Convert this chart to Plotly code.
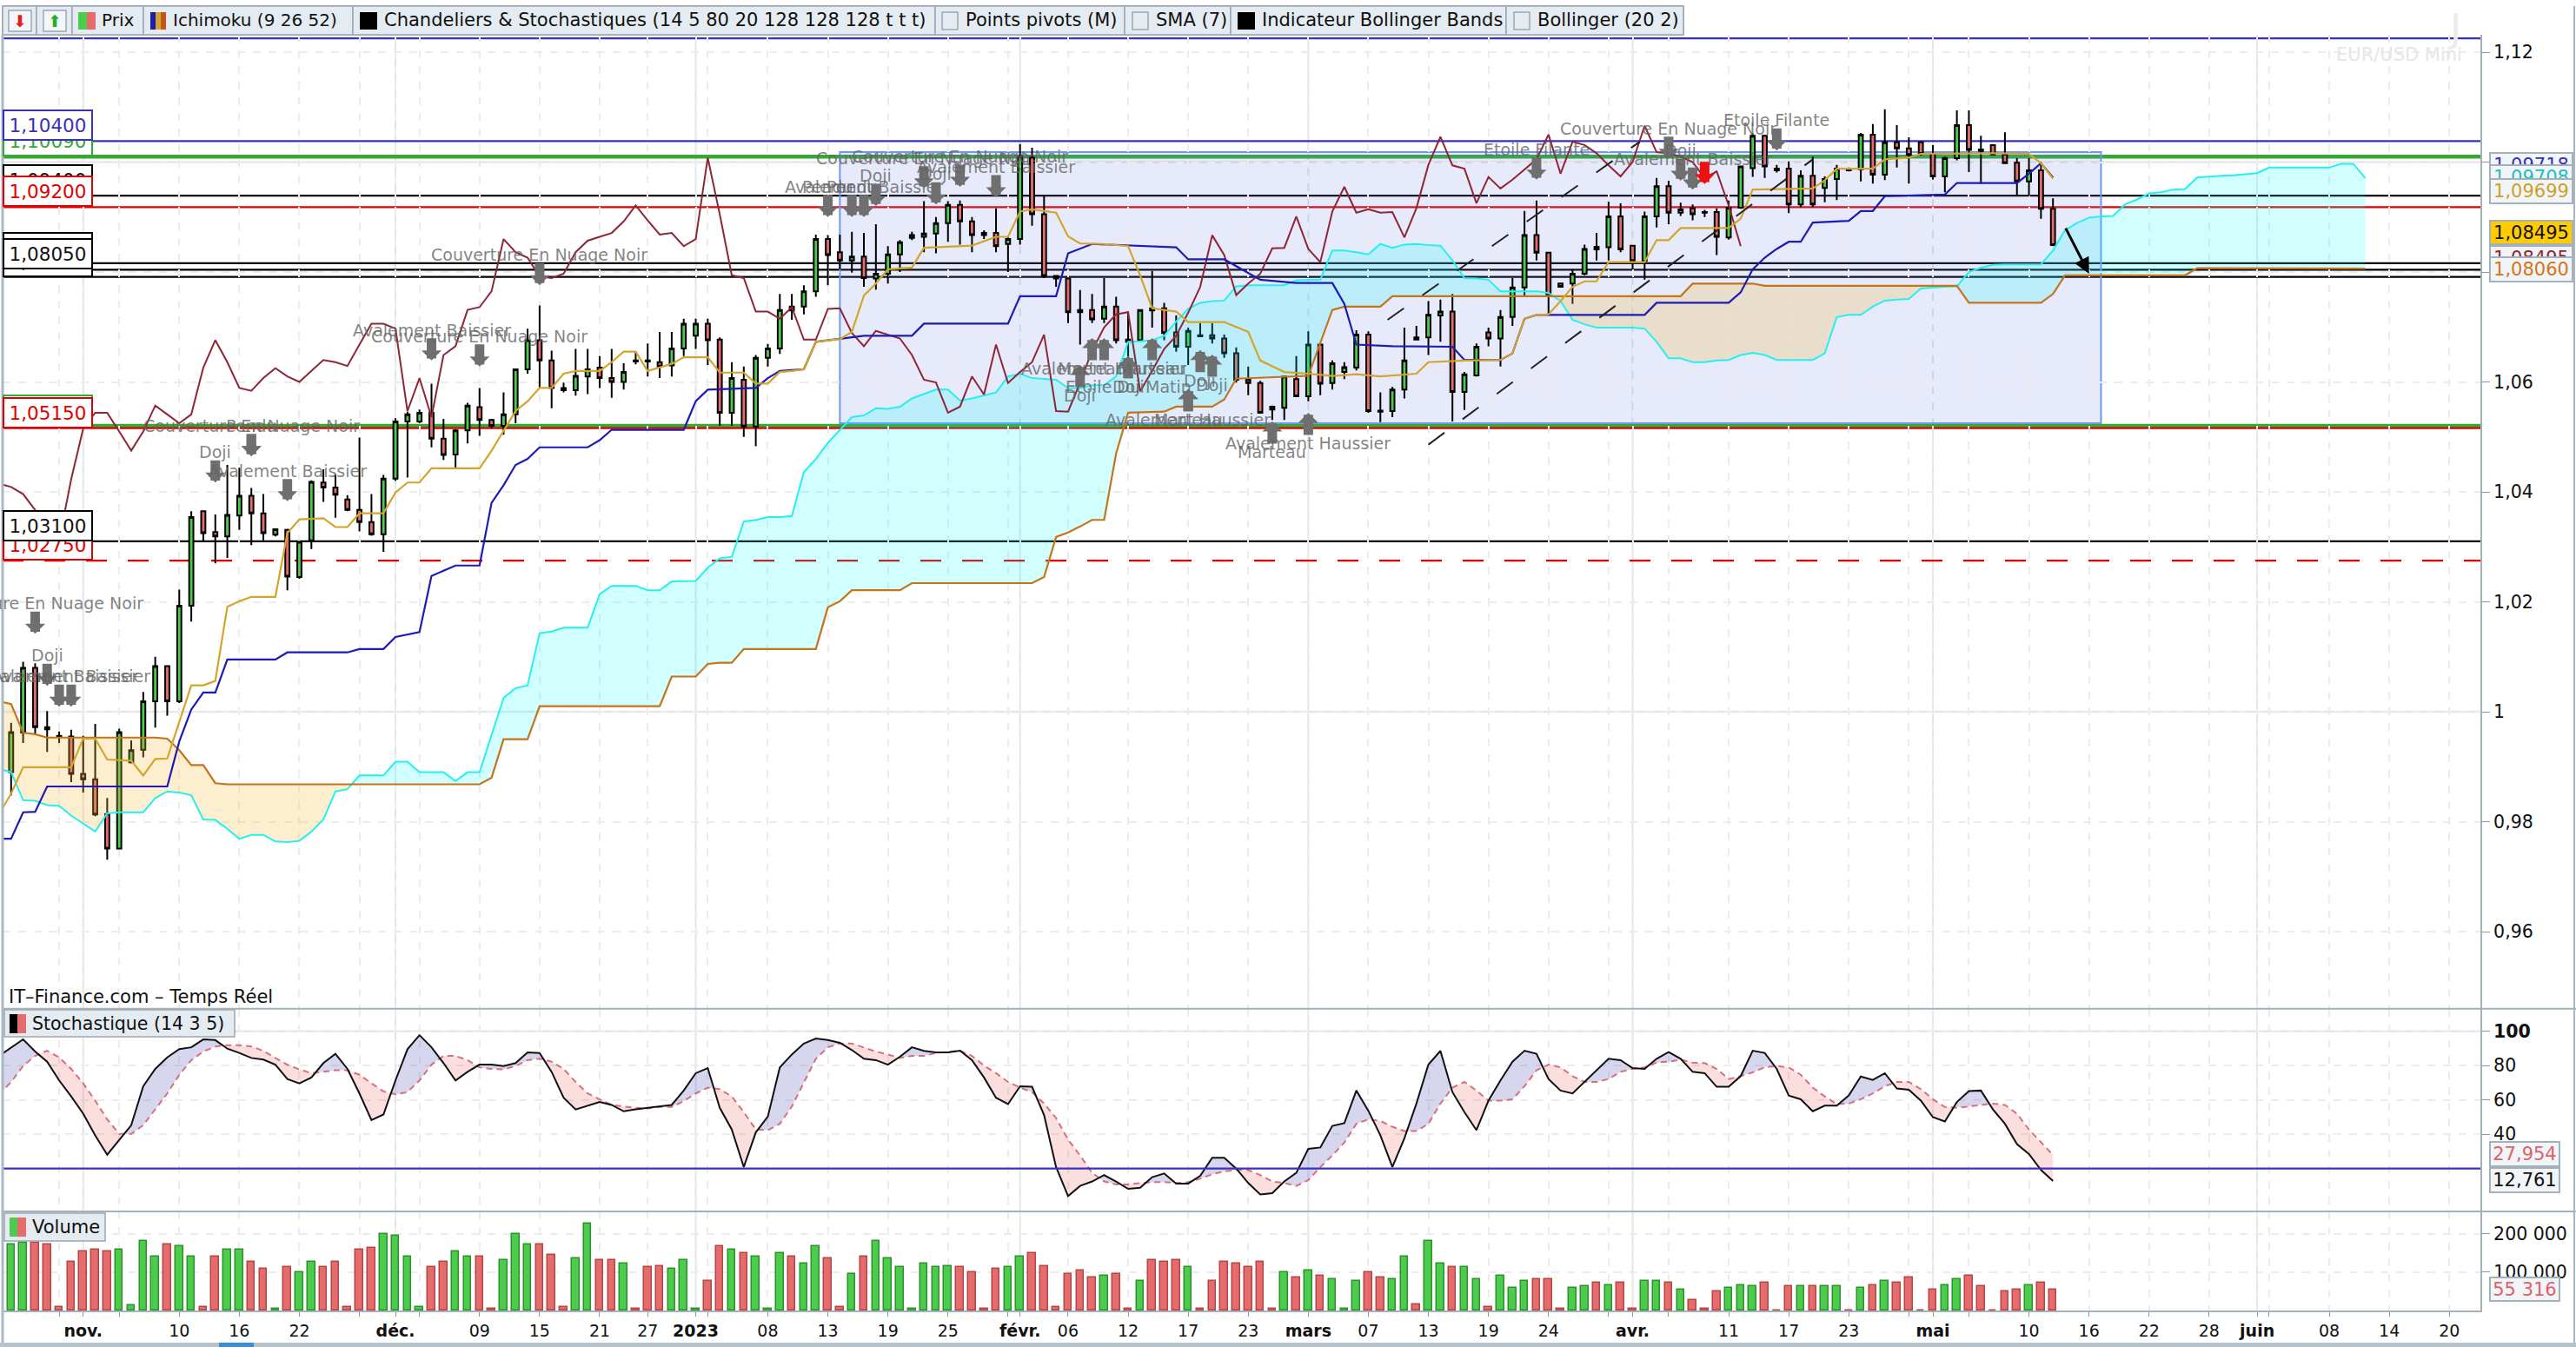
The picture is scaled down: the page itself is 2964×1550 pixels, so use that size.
"""
EUR/USD Mini daily chart: candles with Ichimoku, chart patterns, stochastic and volume panes.
"""
import numpy as np
import plotly.graph_objects as go

open_p = [
    .9890, .9962, 1.0080, .9972, .9956, .9955, .9887, .9877, .9814, .9751,
    .9908, .9931, 1.0019, 1.0083, 1.0019, 1.0193, 1.0365, 1.0327, 1.0319, 1.0357,
    1.0393, 1.0361, 1.0322, 1.0331, 1.0245, 1.0312, 1.0417, 1.0408, 1.0386, 1.0367,
    1.0345, 1.0323, 1.0424, 1.0528, 1.0528, 1.0544, 1.0497, 1.0468, 1.0512, 1.0554,
    1.0531, 1.0520, 1.0541, 1.0623, 1.0676, 1.0639, 1.0589, 1.0585, 1.0610, 1.0626,
    1.0607, 1.0600, 1.0639, 1.0639, 1.0636, 1.0630, 1.0661, 1.0684, 1.0706, 1.0677,
    1.0544, 1.0604, 1.0519, 1.0644, 1.0661, 1.0737, 1.0737, 1.0765, 1.0860, 1.0836,
    1.0821, 1.0828, 1.0788, 1.0797, 1.0832, 1.0862, 1.0864, 1.0870, 1.0889, 1.0922,
    1.0892, 1.0871, 1.0871, 1.0851, 1.0860, 1.1008, 1.0905, 1.0793, 1.0788, 1.0731,
    1.0731, 1.0715, 1.0737, 1.0677, 1.0676, 1.0734, 1.0734, 1.0690, 1.0664, 1.0685,
    1.0685, 1.0679, 1.0652, 1.0604, 1.0598, 1.0555, 1.0553, 1.0605, 1.0574, 1.0668,
    1.0598, 1.0618, 1.0626, 1.0686, 1.0548, 1.0547, 1.0586, 1.0681, 1.0681, 1.0721,
    1.0728, 1.0582, 1.0612, 1.0690, 1.0679, 1.0718, 1.0772, 1.0867, 1.0835, 1.0779,
    1.0779, 1.0797, 1.0846, 1.0845, 1.0901, 1.0848, 1.0820, 1.0901, 1.0956, 1.0908,
    1.0916, 1.0909, 1.0909, 1.0863, 1.0917, 1.0989, 1.1048, 1.0988, 1.0988, 1.0923,
    1.0975, 1.0953, 1.0969, 1.0988, 1.0987, 1.1050, 1.0977, 1.1036, 1.1025, 1.1036,
    1.1015, 1.0974, 1.1007, 1.1067, 1.1023, 1.1031, 1.1014, 1.0999, 1.0965, 1.0985,
    1.0915]
high_p = [
    .9980, 1.0091, 1.0088, 1.0001, .9964, .9967, .9956, .9978, .9843, .9969,
    .9948, 1.0036, 1.0100, 1.0083, 1.0222, 1.0365, 1.0365, 1.0359, 1.0449, 1.0444,
    1.0407, 1.0396, 1.0333, 1.0333, 1.0309, 1.0421, 1.0441, 1.0432, 1.0394, 1.0499,
    1.0396, 1.0431, 1.0534, 1.0546, 1.0550, 1.0597, 1.0533, 1.0514, 1.0562, 1.0589,
    1.0533, 1.0581, 1.0623, 1.0697, 1.0739, 1.0657, 1.0599, 1.0660, 1.0660, 1.0647,
    1.0660, 1.0634, 1.0655, 1.0670, 1.0691, 1.0691, 1.0715, 1.0715, 1.0715, 1.0681,
    1.0636, 1.0628, 1.0649, 1.0669, 1.0760, 1.0760, 1.0776, 1.0868, 1.0867, 1.0868,
    1.0873, 1.0871, 1.0887, 1.0847, 1.0858, 1.0873, 1.0929, 1.0900, 1.0929, 1.0930,
    1.0900, 1.0876, 1.0916, 1.0864, 1.1033, 1.1026, 1.0939, 1.0793, 1.0789, 1.0767,
    1.0760, 1.0789, 1.0755, 1.0728, 1.0731, 1.0802, 1.0744, 1.0721, 1.0699, 1.0707,
    1.0707, 1.0686, 1.0663, 1.0628, 1.0602, 1.0557, 1.0610, 1.0647, 1.0692, 1.0670,
    1.0639, 1.0636, 1.0694, 1.0692, 1.0581, 1.0591, 1.0699, 1.0702, 1.0747, 1.0750,
    1.0760, 1.0618, 1.0670, 1.0699, 1.0731, 1.0789, 1.0911, 1.0930, 1.0835, 1.0780,
    1.0805, 1.0850, 1.0871, 1.0928, 1.0925, 1.0848, 1.0910, 1.0971, 1.0966, 1.0926,
    1.0923, 1.0913, 1.0916, 1.0930, 1.0992, 1.1052, 1.1050, 1.0995, 1.1001, 1.0985,
    1.1010, 1.0974, 1.0995, 1.0990, 1.1053, 1.1069, 1.1096, 1.1067, 1.1045, 1.1036,
    1.1031, 1.1010, 1.1094, 1.1094, 1.1048, 1.1031, 1.1054, 1.1007, 1.1007, 1.1000,
    1.0934]
low_p = [
    .9848, .9943, .9959, .9927, .9943, .9872, .9853, .9810, .9731, .9751,
    .9906, .9917, .9971, .9993, 1.0016, 1.0164, 1.0310, 1.0270, 1.0280, 1.0331,
    1.0303, 1.0312, 1.0319, 1.0221, 1.0242, 1.0296, 1.0382, 1.0353, 1.0365, 1.0328,
    1.0320, 1.0291, 1.0420, 1.0426, 1.0525, 1.0481, 1.0458, 1.0444, 1.0488, 1.0502,
    1.0515, 1.0504, 1.0525, 1.0615, 1.0589, 1.0552, 1.0581, 1.0575, 1.0578, 1.0589,
    1.0571, 1.0586, 1.0632, 1.0610, 1.0607, 1.0610, 1.0647, 1.0660, 1.0631, 1.0520,
    1.0520, 1.0500, 1.0483, 1.0628, 1.0651, 1.0713, 1.0723, 1.0755, 1.0776, 1.0805,
    1.0799, 1.0773, 1.0768, 1.0779, 1.0800, 1.0858, 1.0836, 1.0834, 1.0855, 1.0850,
    1.0836, 1.0860, 1.0836, 1.0800, 1.0850, 1.0884, 1.0789, 1.0773, 1.0707, 1.0668,
    1.0707, 1.0707, 1.0670, 1.0636, 1.0673, 1.0699, 1.0676, 1.0655, 1.0631, 1.0682,
    1.0670, 1.0644, 1.0599, 1.0576, 1.0544, 1.0531, 1.0531, 1.0573, 1.0565, 1.0576,
    1.0586, 1.0605, 1.0621, 1.0544, 1.0527, 1.0536, 1.0570, 1.0676, 1.0649, 1.0673,
    1.0528, 1.0549, 1.0610, 1.0665, 1.0628, 1.0702, 1.0757, 1.0821, 1.0723, 1.0772,
    1.0742, 1.0794, 1.0821, 1.0821, 1.0836, 1.0805, 1.0786, 1.0881, 1.0887, 1.0902,
    1.0894, 1.0900, 1.0831, 1.0859, 1.0915, 1.0973, 1.0971, 1.0981, 1.0907, 1.0918,
    1.0918, 1.0927, 1.0931, 1.0983, 1.0965, 1.0961, 1.0967, 1.0990, 1.0961, 1.1012,
    1.0968, 1.0945, 1.1003, 1.0982, 1.0960, 1.1012, 1.0997, 1.0940, 1.0938, 1.0897,
    1.0847]
close_p = [
    .9963, 1.0080, .9972, .9968, .9954, .9887, .9877, .9813, .9751, .9963,
    .9930, 1.0019, 1.0083, 1.0019, 1.0193, 1.0354, 1.0325, 1.0319, 1.0358, 1.0393,
    1.0361, 1.0325, 1.0332, 1.0246, 1.0309, 1.0418, 1.0408, 1.0395, 1.0367, 1.0345,
    1.0323, 1.0424, 1.0528, 1.0541, 1.0544, 1.0497, 1.0467, 1.0512, 1.0557, 1.0531,
    1.0520, 1.0541, 1.0623, 1.0676, 1.0639, 1.0589, 1.0585, 1.0611, 1.0623, 1.0607,
    1.0600, 1.0618, 1.0637, 1.0637, 1.0628, 1.0661, 1.0706, 1.0706, 1.0676, 1.0544,
    1.0607, 1.0519, 1.0644, 1.0661, 1.0731, 1.0730, 1.0765, 1.0860, 1.0831, 1.0821,
    1.0828, 1.0789, 1.0797, 1.0832, 1.0854, 1.0867, 1.0870, 1.0889, 1.0922, 1.0892,
    1.0867, 1.0867, 1.0847, 1.0860, 1.1010, 1.0905, 1.0793, 1.0788, 1.0727, 1.0727,
    1.0714, 1.0737, 1.0676, 1.0673, 1.0731, 1.0730, 1.0689, 1.0664, 1.0693, 1.0683,
    1.0679, 1.0652, 1.0604, 1.0598, 1.0544, 1.0550, 1.0610, 1.0574, 1.0668, 1.0597,
    1.0634, 1.0627, 1.0686, 1.0547, 1.0546, 1.0586, 1.0639, 1.0677, 1.0722, 1.0728,
    1.0582, 1.0614, 1.0664, 1.0679, 1.0718, 1.0772, 1.0867, 1.0835, 1.0757, 1.0773,
    1.0797, 1.0842, 1.0841, 1.0901, 1.0841, 1.0820, 1.0901, 1.0956, 1.0908, 1.0914,
    1.0905, 1.0908, 1.0864, 1.0917, 1.0992, 1.1048, 1.0992, 1.0985, 1.0923, 1.0975,
    1.0923, 1.0969, 1.0988, 1.0985, 1.1050, 1.0977, 1.1036, 1.1025, 1.1013, 1.1015,
    1.0974, 1.1007, 1.1067, 1.1022, 1.1020, 1.1014, 1.0998, 1.0965, 1.0985, 1.0915,
    1.0849]

volume = [
    172, 177, 177, 172, 8, 127, 154, 158, 154, 158,
    13, 181, 140, 172, 167, 140, 8, 140, 158, 158,
    127, 108, 4, 113, 99, 127, 113, 127, 8, 158,
    163, 199, 195, 140, 8, 113, 127, 154, 140, 140,
    4, 131, 199, 172, 172, 145, 8, 136, 227, 131,
    131, 122, 4, 113, 117, 108, 131, 4, 77, 167,
    158, 149, 140, 4, 149, 140, 122, 167, 136, 8,
    95, 140, 181, 136, 113, 4, 122, 113, 117, 113,
    99, 4, 108, 113, 140, 149, 117, 8, 95, 104,
    86, 90, 95, 4, 77, 131, 127, 131, 113, 4,
    77, 127, 122, 113, 127, 4, 99, 86, 104, 90,
    81, 4, 77, 99, 86, 81, 140, 17, 181, 122,
    113, 113, 81, 8, 90, 58, 77, 81, 81, 4,
    58, 63, 72, 67, 72, 4, 77, 77, 72, 54,
    27, 4, 49, 58, 67, 63, 72, 0, 63, 63,
    63, 63, 63, 0, 58, 67, 77, 72, 86, 0,
    54, 67, 81, 90, 63, 0, 49, 54, 67, 72,
    55.3]

# Ichimoku; these two start one bar left of the first candle
span_a = [
    .9896,
    .9890, .9839, .9838, .9830, .9829, .9811, .9796, .9782, .9815, .9817,
    .9817, .9817, .9843, .9855, .9853, .9848, .9804, .9803, .9787, .9769,
    .9776, .9776, .9764, .9763, .9765, .9782, .9804, .9855, .9859, .9884,
    .9884, .9884, .9909, .9909, .9890, .9890, .9890, .9874, .9890, .9890,
    .9956, 1.0025, 1.0043, 1.0048, 1.0143, 1.0146, 1.0153, 1.0153, 1.0153, 1.0214,
    1.0229, 1.0229, 1.0229, 1.0221, 1.0221, 1.0237, 1.0237, 1.0238, 1.0262, 1.0279,
    1.0282, 1.0346, 1.0349, 1.0354, 1.0354, 1.0356, 1.0436, 1.0460, 1.0489, 1.0512,
    1.0536, 1.0539, 1.0552, 1.0551, 1.0555, 1.0570, 1.0578, 1.0586, 1.0586, 1.0566,
    1.0570, 1.0576, 1.0581, 1.0610, 1.0615, 1.0607, 1.0605, 1.0604, 1.0589, 1.0589,
    1.0594, 1.0594, 1.0610, 1.0673, 1.0674, 1.0676, 1.0684, 1.0710, 1.0733, 1.0744,
    1.0747, 1.0748, 1.0774, 1.0776, 1.0776, 1.0776, 1.0776, 1.0785, 1.0785, 1.0786,
    1.0839, 1.0839, 1.0836, 1.0832, 1.0851, 1.0844, 1.0850, 1.0851, 1.0849, 1.0848,
    1.0821, 1.0789, 1.0788, 1.0786, 1.0765, 1.0765, 1.0765, 1.0765, 1.0762, 1.0747,
    1.0713, 1.0705, 1.0699, 1.0699, 1.0699, 1.0699, 1.0697, 1.0673, 1.0643, 1.0643,
    1.0636, 1.0636, 1.0639, 1.0640, 1.0649, 1.0653, 1.0649, 1.0640, 1.0640, 1.0640,
    1.0640, 1.0652, 1.0718, 1.0722, 1.0722, 1.0737, 1.0748, 1.0750, 1.0751, 1.0770,
    1.0772, 1.0773, 1.0774, 1.0800, 1.0808, 1.0813, 1.0814, 1.0814, 1.0814, 1.0814,
    1.0839, 1.0876, 1.0889, 1.0899, 1.0901, 1.0902, 1.0923, 1.0932, 1.0943, 1.0945,
    1.0950, 1.0951, 1.0972, 1.0974, 1.0975, 1.0976, 1.0978, 1.0980, 1.0990, 1.0990,
    1.0990, 1.0990, 1.0990, 1.0990, 1.0997, 1.0997, 1.0971]
chikou = [
    1.0415,
    1.0409, 1.0396, 1.0367, 1.0330, 1.0312, 1.0423, 1.0515, 1.0544, 1.0544, 1.0510,
    1.0475, 1.0510, 1.0557, 1.0541, 1.0525, 1.0541, 1.0626, 1.0676, 1.0636, 1.0589,
    1.0584, 1.0607, 1.0625, 1.0610, 1.0600, 1.0620, 1.0640, 1.0636, 1.0629, 1.0668,
    1.0706, 1.0706, 1.0697, 1.0547, 1.0607, 1.0536, 1.0649, 1.0665, 1.0731, 1.0736,
    1.0765, 1.0860, 1.0836, 1.0826, 1.0792, 1.0789, 1.0797, 1.0836, 1.0857, 1.0864,
    1.0871, 1.0892, 1.0921, 1.0894, 1.0868, 1.0871, 1.0847, 1.0860, 1.1008, 1.0905,
    1.0794, 1.0789, 1.0728, 1.0728, 1.0715, 1.0736, 1.0677, 1.0677, 1.0733, 1.0734,
    1.0689, 1.0665, 1.0693, 1.0686, 1.0679, 1.0649, 1.0604, 1.0599, 1.0544, 1.0555,
    1.0610, 1.0577, 1.0668, 1.0598, 1.0618, 1.0636, 1.0686, 1.0547, 1.0546, 1.0599,
    1.0657, 1.0699, 1.0723, 1.0727, 1.0583, 1.0620, 1.0660, 1.0684, 1.0726, 1.0773,
    1.0867, 1.0831, 1.0758, 1.0779, 1.0797, 1.0843, 1.0844, 1.0901, 1.0842, 1.0818,
    1.0910, 1.0955, 1.0908, 1.0914, 1.0908, 1.0909, 1.0863, 1.0916, 1.0995, 1.1046,
    1.0994, 1.0988, 1.0925, 1.0973, 1.0952, 1.0968, 1.0987, 1.1005, 1.1050, 1.0979,
    1.1037, 1.1031, 1.1016, 1.0994, 1.0974, 1.1000, 1.1066, 1.1018, 1.1016, 1.1010,
    1.1000, 1.0971, 1.0983, 1.0921, 1.0847]

span_b_bars = [-1, 0, 1, 2, 3, 12, 13, 14, 15, 16, 17, 18, 39, 40, 41, 43, 44, 54, 55, 57, 58, 59, 60,
               61, 67, 68, 69, 70, 74, 75, 85, 86, 87, 88, 89, 90, 91, 92, 93, 96, 97, 100, 101, 102,
               108, 110, 111, 114, 115, 139, 140, 145, 146, 162, 163, 169, 170, 171, 181, 182, 196]
span_b = [1.0019, 1.0014, .9962, .9959, .9953, .9953, .9951, .9930, .9903, .9903, .9870, .9868, .9868,
          .9880, .9950, .9950, 1.0010, 1.0010, 1.0064, 1.0064, 1.0087, 1.0089, 1.0089, 1.0114, 1.0114,
          1.0190, 1.0201, 1.0221, 1.0221, 1.0234, 1.0234, 1.0245, 1.0318, 1.0326, 1.0337, 1.0349,
          1.0349, 1.0470, 1.0544, 1.0546, 1.0555, 1.0555, 1.0568, 1.0606, 1.0611, 1.0731, 1.0737,
          1.0737, 1.0756, 1.0756, 1.0779, 1.0779, 1.0775, 1.0775, 1.0744, 1.0744, 1.0760, 1.0794,
          1.0794, 1.0807, 1.0806]
tenkan_bars = [-1, 0, 1, 5, 6, 7, 8, 10, 11, 12, 13, 14, 15, 16, 17, 18, 19, 20, 22, 23, 24, 26, 27, 28,
               29, 31, 32, 33, 34, 35, 39, 40, 41, 42, 43, 44, 45, 46, 47, 49, 50, 51, 52, 53, 55, 56,
               58, 59, 61, 62, 63, 64, 65, 66, 67, 69, 70, 71, 72, 73, 75, 76, 80, 82, 83, 84, 85, 87,
               88, 89, 91, 93, 94, 95, 97, 98, 101, 103, 104, 106, 108, 110, 112, 114, 117, 118, 121,
               124, 125, 126, 127, 128, 129, 130, 131, 132, 133, 136, 137, 138, 139, 143, 144, 145,
               150, 151, 152, 155, 156, 158, 159, 165, 168, 169, 170]
tenkan = [.9814, .9851, .9899, .9899, .9951, .9951, .9913, .9911, .9884, .9914, .9915, .9980, 1.0048,
          1.0048, 1.0056, 1.0191, 1.0201, 1.0209, 1.0209, 1.0325, 1.0350, 1.0352, 1.0336, 1.0336,
          1.0361, 1.0361, 1.0399, 1.0417, 1.0417, 1.0443, 1.0443, 1.0475, 1.0510, 1.0547, 1.0565,
          1.0589, 1.0589, 1.0615, 1.0620, 1.0620, 1.0636, 1.0655, 1.0655, 1.0620, 1.0633, 1.0645,
          1.0645, 1.0617, 1.0617, 1.0597, 1.0597, 1.0618, 1.0620, 1.0623, 1.0673, 1.0678, 1.0691,
          1.0757, 1.0779, 1.0805, 1.0808, 1.0844, 1.0848, 1.0864, 1.0864, 1.0910, 1.0914, 1.0908,
          1.0865, 1.0852, 1.0851, 1.0847, 1.0794, 1.0734, 1.0728, 1.0709, 1.0709, 1.0691, 1.0639,
          1.0618, 1.0615, 1.0611, 1.0614, 1.0610, 1.0615, 1.0636, 1.0639, 1.0640, 1.0652, 1.0715,
          1.0722, 1.0723, 1.0747, 1.0773, 1.0783, 1.0783, 1.0818, 1.0818, 1.0858, 1.0858, 1.0880,
          1.0880, 1.0897, 1.0950, 1.0952, 1.0967, 1.0988, 1.0988, 1.1005, 1.1008, 1.1015, 1.1016,
          1.1015, 1.0998, 1.0970]
kijun_bars = [-1, 0, 1, 2, 3, 13, 14, 15, 16, 17, 18, 22, 23, 28, 29, 31, 32, 34, 35, 36, 37, 39, 40, 41,
              42, 43, 44, 48, 49, 50, 56, 57, 58, 62, 63, 64, 66, 67, 71, 75, 76, 83, 84, 87, 88, 90, 93,
              97, 98, 101, 104, 107, 110, 111, 112, 115, 120, 121, 124, 125, 126, 127, 136, 137, 143,
              144, 145, 146, 147, 148, 149, 150, 153, 154, 155, 156, 161, 162, 167, 168, 169, 170]
kijun = [.9769, .9769, .9817, .9818, .9864, .9864, .9946, 1.0004, 1.0035, 1.0035, 1.0095, 1.0095, 1.0108,
         1.0108, 1.0114, 1.0114, 1.0136, 1.0145, 1.0247, 1.0257, 1.0266, 1.0266, 1.0380, 1.0412, 1.0449,
         1.0460, 1.0481, 1.0481, 1.0494, 1.0513, 1.0513, 1.0565, 1.0586, 1.0589, 1.0607, 1.0620, 1.0623,
         1.0673, 1.0684, 1.0684, 1.0706, 1.0706, 1.0756, 1.0756, 1.0834, 1.0851, 1.0848, 1.0845, 1.0823,
         1.0823, 1.0786, 1.0780, 1.0780, 1.0742, 1.0668, 1.0665, 1.0664, 1.0640, 1.0640, 1.0652, 1.0715,
         1.0722, 1.0722, 1.0744, 1.0744, 1.0763, 1.0805, 1.0826, 1.0842, 1.0855, 1.0855, 1.0890, 1.0893,
         1.0911, 1.0911, 1.0938, 1.0941, 1.0962, 1.0962, 1.0979, 1.0998, 1.0972]

# Stochastic, also starting one bar left of the first candle
stoch_k = [
    85.7,
    90.7, 95.3, 88.2, 82.3, 71.4, 62.1, 52.0, 39.4, 28.1, 36.9,
    45.3, 68.0, 78.1, 84.8, 89.6, 90.7, 95.3, 94.9, 89.9, 87.4,
    84.5, 83.5, 80.6, 72.2, 69.7, 73.1, 81.5, 86.9, 78.1, 63.8,
    48.3, 51.5, 71.4, 89.6, 97.8, 90.7, 81.5, 71.4, 76.4, 80.6,
    80.6, 79.8, 81.5, 87.7, 87.4, 76.4, 61.3, 54.5, 56.6, 58.8,
    57.1, 53.4, 54.5, 55.4, 56.2, 57.1, 65.5, 75.6, 78.6, 55.4,
    42.8, 20.9, 41.1, 50.3, 79.0, 86.5, 92.9, 95.8, 94.9, 93.3,
    89.1, 84.0,
    83.2, 80.6, 85.2, 90.7, 88.6, 87.7, 87.7, 88.7, 83.2, 73.1,
    61.3, 57.6, 68.0, 67.7, 51.2, 20.9, 4.0, 9.9, 12.5, 16.2,
    12.5, 8.2, 8.8, 15.0, 17.2, 11.3, 11.3, 15.8, 26.3, 26.3,
    20.0, 11.6, 4.9, 5.7, 12.5, 17.5, 31.5, 32.3, 44.9, 46.5,
    65.5, 53.7, 39.4, 20.9, 37.7, 57.9, 80.6, 88.6, 64.6, 52.9,
    42.4, 59.6, 71.4, 82.3, 88.7, 86.9, 72.2, 65.5, 63.8, 70.5,
    77.3, 84.0, 83.2, 78.6, 78.1, 84.0, 87.9, 84.0, 76.4, 75.6,
    67.7, 67.7,
    73.9, 88.7, 87.4, 78.1, 62.6, 60.4, 53.4, 56.7, 56.7, 62.6,
    73.7, 71.7, 75.6, 66.7, 66.0, 59.6, 50.0, 47.5, 58.8, 65.2,
    65.5, 54.5, 46.1, 34.3, 28.5, 19.2, 12.761]
stoch_d = [
    63.0,
    70.5, 79.8, 85.7, 88.7, 84.8, 78.1, 69.7, 59.6, 48.7, 40.2,
    40.2, 45.3, 54.5, 63.8, 74.7, 83.2, 88.2, 91.2, 91.9, 91.9,
    91.2, 88.6, 84.5, 80.6, 77.8, 75.6, 76.4, 77.3, 77.3, 74.7,
    69.7, 65.0, 63.3, 64.6, 71.4, 80.6, 85.7, 85.7, 83.2, 79.0,
    78.1, 77.8, 79.8, 83.2, 84.0, 82.3, 78.1, 70.5, 63.8, 60.4,
    57.1, 56.2, 55.4, 55.1, 55.9, 55.9, 59.3, 63.8, 67.2, 66.3,
    62.1, 52.9, 42.8, 42.4, 46.1, 56.2, 70.5, 84.0, 90.7, 92.9,
    92.9, 90.7,
    88.2, 86.5, 84.5, 85.7, 85.7, 87.4, 88.2, 88.7, 85.7, 80.1,
    75.6, 70.5, 67.2, 64.6, 57.9, 49.5, 36.9, 27.6, 17.5, 12.5,
    10.8, 10.8, 11.6, 12.1, 12.1, 11.6, 12.1, 14.1, 16.7, 18.4,
    19.2, 19.2, 16.2, 12.5, 11.6, 9.9, 13.3, 20.9, 27.6, 35.2,
    46.1, 48.7, 47.8, 44.4, 41.9, 41.9, 46.1, 57.9, 67.2, 70.5,
    65.5, 59.6, 59.6, 60.4, 68.0, 77.3, 80.6, 79.0, 73.9, 70.5,
    70.5, 72.2, 76.4, 78.1, 79.0, 81.8, 82.3, 83.5, 81.8, 81.5,
    78.1,
    72.2, 73.9, 76.1, 79.0, 79.8, 79.0, 74.7, 67.2, 62.1, 57.6,
    57.9, 60.4, 63.8, 68.0, 70.5, 70.5, 66.3, 60.4, 55.9, 55.4,
    56.2, 57.1, 57.9, 57.1, 52.0, 42.8, 35.2, 27.954]

# Horizontal levels drawn by the user
level_prices = [1.1225, 1.1038, 1.1010, 1.0939, 1.0918, 1.0816, 1.0804, 1.0791, 1.0520, 1.0516, 1.0310, 1.0275]
level_kinds = ['blue', 'blue', 'green', 'black', 'red', 'black', 'black', 'black', 'green', 'red', 'black', 'dash']

trend_low_bars = [118, 150]
trend_low_prices = [1.0486, 1.1005]
trend_high_bars = [114.6, 135.6]
trend_high_prices = [1.0713, 1.1037]

zone_bars = [69, 174]
zone_prices = [1.0525, 1.1018]
forecast_bars = [171, 173]
forecast_prices = [1.0882, 1.0797]

down_names = ['Couverture En Nuage Noir', 'Doji', 'Avalement Baissier', 'Avalement Baissier', 'Doji',
              'Couverture En Nuage Noir', 'Pendu', 'Avalement Baissier', 'Avalement Baissier',
              'Couverture En Nuage Noir', 'Couverture En Nuage Noir', 'Pendu', 'Pendu',
              'Avalement Baissier', 'Doji', 'Couverture En Nuage Noir', 'Doji',
              'Couverture En Nuage Noir', 'Avalement Baissier', 'Etoile Filante',
              'Couverture En Nuage Noir', 'Doji', 'Avalement Baissier', 'Etoile Filante']
down_bars = [2, 3, 4, 5, 17, 20, 20, 23, 35, 39, 44, 68, 70, 71, 72, 76, 77, 79, 82, 127, 138, 139, 140, 147]
down_tips = [1.0142, 1.0047, 1.0009, 1.0009, 1.0417, 1.0465, 1.0465, 1.0383, 1.0639, 1.0628, 1.0776, 1.0900,
             1.0900, 1.0900, 1.0920, 1.0952, 1.0923, 1.0955, 1.0936, 1.0968, 1.1006, 1.0966, 1.0950, 1.1021]
up_names = ['Doji', 'Marteau', 'Avalement Haussier', 'Etoile Du Matin', 'Doji', 'Marteau', 'Avalement Haussier',
            'Marteau', 'Doji', 'Doji', 'Marteau', 'Avalement Haussier']
up_bars = [89, 90, 91, 93, 93, 95, 98, 98, 99, 100, 105, 108]
up_tips = [1.0631, 1.0680, 1.0680, 1.0647, 1.0647, 1.0680, 1.0587, 1.0587, 1.0658, 1.0650, 1.0528, 1.0544]
alert_bar = 141
alert_tip = 1.0960

x_tick_bars = [4, 6, 9, 14, 19, 24, 29, 32, 34, 39, 44, 49, 53, 57, 58, 63, 68, 73, 78, 83, 84, 88, 93, 98,
               103, 108, 113, 118, 123, 128, 133, 135, 138, 143, 148, 153, 158, 160, 163, 168, 173, 178,
               183, 187, 188, 193, 198, 203]
x_tick_labels = ['', '<b>nov.</b>', '', '10', '16', '22', '', '<b>déc.</b>', '', '09', '15', '21', '27',
                 '<b>2023</b>', '', '08', '13', '19', '25', '', '<b>févr.</b>', '06', '12', '17', '23',
                 '<b>mars</b>', '07', '13', '19', '24', '', '<b>avr.</b>', '', '11', '17', '23', '',
                 '<b>mai</b>', '', '10', '16', '22', '28', '<b>juin</b>', '', '08', '14', '20']
month_bars = [6, 32, 57, 84, 108, 135, 160, 187]
price_ticks = [.96, .98, 1.0, 1.02, 1.04, 1.06, 1.08, 1.10, 1.12]
price_tick_labels = ['0,96', '0,98', '1', '1,02', '1,04', '1,06', '1,08', '1,10', '1,12']
stoch_ticks = [40, 60, 80, 100]
stoch_tick_labels = ['40', '60', '80', '<b>100</b>']
volume_ticks = [100000, 200000]
volume_tick_labels = ['100 000', '200 000']

# Text, price of the box's lower edge, kind; later boxes hide earlier ones
left_box_texts = ['1,10090', '1,10400', '1,09400', '1,09200', '1,07900', '1,08150', '1,08050', '1,05200',
                  '1,05150', '1,02750', '1,03100']
left_box_prices = [1.1010, 1.1038, 1.0939, 1.0918, 1.0791, 1.0816, 1.0804, 1.0520, 1.0516, 1.0275, 1.0310]
left_box_kinds = ['green', 'blue', 'black', 'red', 'black', 'black', 'black', 'green', 'red', 'red', 'black']

WIDTH, HEIGHT = 2964, 1550
PLOT_LEFT, PLOT_RIGHT = 3, 2854
BAR_START, BAR_STEP = 12.8, 13.82
FONT = 'DejaVu Sans'
GREEN, RED = '#4ccb4c', '#e46c6c'
GREY_TEXT = 'rgba(100,100,100,0.8)'
GREY_ARROW = '#6f6f6f'
KIND_COLORS = {'blue': '#3a30c0', 'green': '#35a835', 'black': '#000000', 'red': '#e00000', 'dash': '#e00000'}
KIND_WIDTHS = {'blue': 2.2, 'green': 4.5, 'black': 2.2, 'red': 2.2, 'dash': 2.2}
LEFT_TEXT_COLORS = {'blue': '#3a30c0', 'green': '#35a835', 'black': '#111111', 'red': '#e00000'}


def px(x):
    return x / WIDTH


def py(y):
    return 1 - y / HEIGHT


def band_polygon(x, a, b, sign):
    """Outline of the stretches where sign*(a-b) > 0, split at the crossings, for fill='toself'."""
    xs, tops, bots = [], [], []
    for i in range(len(x)):
        if i > 0 and (a[i - 1] - b[i - 1]) * (a[i] - b[i]) < 0:
            d0, d1 = a[i - 1] - b[i - 1], a[i] - b[i]
            t = d0 / (d0 - d1)
            xc = x[i - 1] + t * (x[i] - x[i - 1])
            yc = a[i - 1] + t * (a[i] - a[i - 1])
            xs.append(xc)
            tops.append(yc)
            bots.append(yc)
        xs.append(x[i])
        tops.append(a[i])
        bots.append(b[i])

    out_x, out_y = [], []
    run = []
    for i in range(len(xs)):
        if sign * (tops[i] - bots[i]) >= 0:
            run.append(i)
        else:
            if len(run) > 1:
                out_x += [xs[j] for j in run] + [xs[j] for j in reversed(run)] + [None]
                out_y += [tops[j] for j in run] + [bots[j] for j in reversed(run)] + [None]
            run = []
    if len(run) > 1:
        out_x += [xs[j] for j in run] + [xs[j] for j in reversed(run)] + [None]
        out_y += [tops[j] for j in run] + [bots[j] for j in reversed(run)] + [None]
    return out_x, out_y


def add_traces(fig):
    cloud_bars = np.arange(len(span_a)) - 1
    span_b_on_bars = np.interp(cloud_bars, span_b_bars, span_b)
    for sign, color in [(1, 'rgba(0,255,255,0.18)'), (-1, 'rgba(245,190,70,0.26)')]:
        poly_x, poly_y = band_polygon(cloud_bars, span_a, span_b_on_bars, sign)
        fig.add_trace(go.Scatter(x=poly_x, y=poly_y, mode='lines', fill='toself', fillcolor=color,
                                 line=dict(width=0), hoverinfo='skip'))

    bars = np.arange(len(close_p))
    fig.add_trace(go.Candlestick(x=bars, open=open_p, high=high_p, low=low_p, close=close_p,
                                 increasing=dict(fillcolor=GREEN, line=dict(color='black', width=2)),
                                 decreasing=dict(fillcolor=RED, line=dict(color='black', width=2)),
                                 whiskerwidth=0, hoverinfo='skip'))

    fig.add_trace(go.Scatter(x=cloud_bars, y=span_a, mode='lines', line=dict(color='#25f0f0', width=2)))
    fig.add_trace(go.Scatter(x=span_b_bars, y=span_b, mode='lines', line=dict(color='#c4751a', width=2.2)))
    fig.add_trace(go.Scatter(x=np.arange(len(chikou)) - 1, y=chikou, mode='lines',
                             line=dict(color='#8e2636', width=2)))
    fig.add_trace(go.Scatter(x=kijun_bars, y=kijun, mode='lines', line=dict(color='#1c1cb4', width=2.2)))
    fig.add_trace(go.Scatter(x=tenkan_bars, y=tenkan, mode='lines', line=dict(color='#d4a52c', width=2.2)))
    for bars_t, prices_t in [(trend_low_bars, trend_low_prices), (trend_high_bars, trend_high_prices)]:
        fig.add_trace(go.Scatter(x=bars_t, y=prices_t, mode='lines',
                                 line=dict(color='#222222', width=2, dash='23px,26px')))

    stoch_bars = np.arange(len(stoch_k)) - 1
    for sign, color in [(1, 'rgba(90,90,190,0.25)'), (-1, 'rgba(235,90,90,0.20)')]:
        poly_x, poly_y = band_polygon(stoch_bars, stoch_k, stoch_d, sign)
        fig.add_trace(go.Scatter(x=poly_x, y=poly_y, yaxis='y2', mode='lines', fill='toself', fillcolor=color,
                                 line=dict(width=0), hoverinfo='skip'))
    fig.add_trace(go.Scatter(x=stoch_bars, y=stoch_d, yaxis='y2', mode='lines',
                             line=dict(color='#d8707c', width=2, dash='7px,5px')))
    fig.add_trace(go.Scatter(x=stoch_bars, y=stoch_k, yaxis='y2', mode='lines',
                             line=dict(color='#111111', width=2)))

    bar_colors = [GREEN if c >= o else RED for o, c in zip(open_p, close_p)]
    edge_colors = ['#2a932a' if c >= o else '#b84444' for o, c in zip(open_p, close_p)]
    fig.add_trace(go.Bar(x=np.arange(len(volume)), y=[v * 1000 for v in volume], yaxis='y3', width=0.62,
                         marker=dict(color=bar_colors, line=dict(color=edge_colors, width=1.5))))


def level_shapes():
    shapes = []
    for bar in month_bars:
        shapes.append(dict(type='line', xref='x', yref='paper', x0=bar, x1=bar, y0=py(1508), y1=py(40),
                           layer='below', line=dict(color='#dfe5e9', width=2)))
    for price in (1.0, 1.10):
        shapes.append(dict(type='line', xref='paper', yref='y', x0=px(PLOT_LEFT), x1=px(PLOT_RIGHT), y0=price,
                           y1=price, layer='below', line=dict(color='#e6e6e6', width=2.5)))
    shapes.append(dict(type='line', xref='paper', yref='y2', x0=px(PLOT_LEFT), x1=px(PLOT_RIGHT), y0=100, y1=100,
                       layer='below', line=dict(color='#e6e6e6', width=2.5)))
    shapes.append(dict(type='rect', xref='x', yref='y', x0=zone_bars[0], x1=zone_bars[1], y0=zone_prices[0],
                       y1=zone_prices[1], layer='below', fillcolor='rgba(105,130,230,0.17)',
                       line=dict(color='#6f97ee', width=2)))
    for price, kind in zip(level_prices, level_kinds):
        shapes.append(dict(type='line', xref='paper', yref='y', x0=px(PLOT_LEFT), x1=px(PLOT_RIGHT), y0=price,
                           y1=price, layer='below',
                           line=dict(color=KIND_COLORS[kind], width=KIND_WIDTHS[kind],
                                     dash='24px,24px' if kind == 'dash' else 'solid')))
    shapes.append(dict(type='line', xref='paper', yref='y2', x0=px(PLOT_LEFT), x1=px(PLOT_RIGHT), y0=20, y1=20,
                       line=dict(color='#3a30c0', width=2.2)))
    return shapes


def chrome_shapes():
    """Toolbar, pane separators and frame, all placed in page pixels."""
    shapes = []

    def rect(x0, y0, x1, y1, fill, line='#9aa8b4', width=1.5):
        shapes.append(dict(type='rect', xref='paper', yref='paper', x0=px(x0), x1=px(x1), y0=py(y0), y1=py(y1),
                           fillcolor=fill, line=dict(color=line, width=width)))

    rect(3, 7, 1937, 40, '#e4ebf1')
    for left, right in [(3, 42), (42, 83), (83, 165), (165, 406), (406, 1076), (1076, 1294), (1294, 1416),
                        (1416, 1733), (1733, 1937)]:
        rect(left, 7, right, 40, '#e4ebf1')
    rect(10, 12, 36, 36, '#f4f6f8')
    rect(50, 12, 76, 36, '#f4f6f8')
    rect(90, 14, 100, 34, GREEN, line=GREEN, width=0)
    rect(100, 14, 110, 34, RED, line=RED, width=0)
    rect(173, 14, 179, 34, '#1c1cb4', line='#1c1cb4', width=0)
    rect(179, 14, 185, 34, '#d4a52c', line='#d4a52c', width=0)
    rect(185, 14, 191, 34, '#c4551a', line='#c4551a', width=0)
    rect(414, 14, 434, 34, '#000000', line='#000000', width=0)
    rect(1084, 14, 1102, 34, '#e4ebf1', line='#9aa8b4')
    rect(1303, 14, 1321, 34, '#e4ebf1', line='#9aa8b4')
    rect(1424, 14, 1444, 34, '#000000', line='#000000', width=0)
    rect(1742, 14, 1760, 34, '#e4ebf1', line='#9aa8b4')

    for y in (1160.7, 1394):
        shapes.append(dict(type='line', xref='paper', yref='paper', x0=px(PLOT_LEFT), x1=1, y0=py(y), y1=py(y),
                           line=dict(color='#a3b1ba', width=2)))
    shapes.append(dict(type='line', xref='paper', yref='paper', x0=px(PLOT_LEFT), x1=px(PLOT_LEFT), y0=py(1545),
                       y1=py(40), line=dict(color='#a9b8c4', width=3)))
    shapes.append(dict(type='line', xref='paper', yref='paper', x0=px(2962), x1=px(2962), y0=py(1545), y1=py(7),
                       line=dict(color='#a9b8c4', width=2)))

    rect(5, 1162, 270, 1193, '#e4ebf1')
    rect(11, 1167, 20, 1189, '#000000', line='#000000', width=0)
    rect(20, 1167, 30, 1189, RED, line=RED, width=0)
    rect(5, 1396, 121, 1428, '#e4ebf1')
    rect(11, 1401, 20, 1423, GREEN, line=GREEN, width=0)
    rect(20, 1401, 30, 1423, RED, line=RED, width=0)

    rect(0, 1545, WIDTH, HEIGHT, '#b4c2cb', line='#b4c2cb', width=0)
    rect(252, 1545, 292, HEIGHT, '#3a90d8', line='#3a90d8', width=0)
    return shapes


def pattern_annotations():
    notes = []
    for name, bar, tip in zip(down_names, down_bars, down_tips):
        notes.append(dict(x=bar, y=tip, xref='x', yref='y', text='', showarrow=True, ax=0, ay=-27,
                          arrowhead=1, arrowsize=0.35, arrowwidth=11, arrowcolor=GREY_ARROW))
        notes.append(dict(x=bar, y=tip, xref='x', yref='y', text=name, showarrow=False, yshift=35,
                          font=dict(family=FONT, size=19, color=GREY_TEXT)))
    for name, bar, tip in zip(up_names, up_bars, up_tips):
        notes.append(dict(x=bar, y=tip, xref='x', yref='y', text='', showarrow=True, ax=0, ay=27,
                          arrowhead=1, arrowsize=0.35, arrowwidth=11, arrowcolor=GREY_ARROW))
        notes.append(dict(x=bar, y=tip, xref='x', yref='y', text=name, showarrow=False, yshift=-35,
                          font=dict(family=FONT, size=19, color=GREY_TEXT)))
    notes.append(dict(x=alert_bar, y=alert_tip, xref='x', yref='y', text='', showarrow=True, ax=0, ay=-27,
                      arrowhead=1, arrowsize=0.35, arrowwidth=11, arrowcolor='#ee1111'))
    notes.append(dict(x=forecast_bars[1], y=forecast_prices[1], xref='x', yref='y', axref='x', ayref='y',
                      ax=forecast_bars[0], ay=forecast_prices[0], text='', showarrow=True,
                      arrowhead=2, arrowsize=1.2, arrowwidth=3, arrowcolor='#000000'))
    return notes


def text_annotations():
    notes = []

    def label(x, y, text, size=19, color='#111111', anchor='left'):
        notes.append(dict(x=px(x), y=py(y), xref='paper', yref='paper', text=text, showarrow=False, xanchor=anchor,
                          yanchor='middle', font=dict(family=FONT, size=size, color=color)))

    for left, text, size in [(115, 'Prix', 20), (197, 'Ichimoku (9 26 52)', 20),
                             (440, 'Chandeliers &amp; Stochastiques (14 5 80 20 128 128 128 t t t)', 21),
                             (1109, 'Points pivots (M)', 21), (1328, 'SMA (7)', 21),
                             (1450, 'Indicateur Bollinger Bands', 21), (1767, 'Bollinger (20 2)', 21)]:
        label(left, 23.5, text, size=size)
    label(23, 24, '⬇', size=19, color='#e02020', anchor='center')
    label(63, 24, '⬆', size=19, color='#20b020', anchor='center')
    label(8, 1147, 'IT–Finance.com – Temps Réel', size=21)
    label(35, 1178, 'Stochastique (14 3 5)', size=20.5)
    label(35, 1412, 'Volume', size=21)
    label(2760, 63, 'EUR/USD Mini', size=21, color='#e6e6e6', anchor='center')
    label(2824, 33, 'J', size=44, color='#ececec', anchor='center')

    # Boxes hugging the left edge, sitting on their level
    for text, price, kind in zip(left_box_texts, left_box_prices, left_box_kinds):
        notes.append(dict(x=px(3), y=price, xref='paper', yref='y', xanchor='left', yanchor='bottom',
                          text=text, showarrow=False, width=98, height=30, borderpad=1, borderwidth=2,
                          bgcolor='white', bordercolor=KIND_COLORS[kind], align='center',
                          font=dict(family=FONT, size=21.5, color=LEFT_TEXT_COLORS[kind])))

    # Value boxes on the price scale, stacked as the page stacks them
    for top, bottom, text, color, fill in [(175, 205, '1,09718', '#3a30c0', '#f2f5f8'),
                                           (189, 219, '1,09708', '#20c0c0', '#f2f5f8'),
                                           (205, 235, '1,09699', '#cf9f2c', '#f2f5f8'),
                                           (282, 312, '1,08495', '#8e2636', '#f2f5f8'),
                                           (295, 325, '1,08060', '#d4751a', '#f2f5f8'),
                                           (253, 282, '1,08495', '#111111', '#ffcc00'),
                                           (1313, 1343, '27,954', '#e0606a', '#f2f5f8'),
                                           (1343, 1373, '12,761', '#111111', '#f2f5f8'),
                                           (1469, 1498, '55 316', '#e0606a', '#f2f5f8')]:
        box_right = 2961 if top < 1000 else 2946
        notes.append(dict(x=px(2864), y=py(top), xref='paper', yref='paper', xanchor='left', yanchor='top',
                          text=text, showarrow=False, width=box_right - 2864 - 6, height=bottom - top - 6,
                          borderpad=1, borderwidth=2, bgcolor=fill, bordercolor='#a3b1ba', align='center',
                          font=dict(family=FONT, size=21, color=color)))
    return notes


def right_axis(domain, axis_range, ticks, labels):
    return dict(domain=domain, range=axis_range, side='right', anchor='x', tickmode='array', tickvals=ticks,
                ticktext=labels, ticks='outside', ticklen=9, tickcolor='#8b98a2', showline=True,
                linecolor='#a3b1ba', linewidth=2, tickfont=dict(family=FONT, size=20.5, color='#111111'),
                showgrid=True, gridcolor='#ececec', griddash='dash', gridwidth=1.5, zeroline=False)


def main():
    fig = go.Figure()
    add_traces(fig)
    fig.update_layout(
        width=WIDTH, height=HEIGHT, margin=dict(l=0, r=0, t=0, b=0), paper_bgcolor='white', plot_bgcolor='white',
        showlegend=False, hovermode=False, boxgap=0.5, bargap=0,
        xaxis=dict(domain=[px(PLOT_LEFT), px(PLOT_RIGHT)],
                   range=[(PLOT_LEFT - BAR_START) / BAR_STEP, (PLOT_RIGHT - BAR_START) / BAR_STEP],
                   anchor='y3', rangeslider=dict(visible=False), tickmode='array', tickvals=x_tick_bars,
                   ticktext=x_tick_labels, ticks='outside', ticklen=5, tickcolor='#8b98a2', showline=True,
                   linecolor='#a3b1ba', linewidth=2, tickangle=0,
                   tickfont=dict(family=FONT, size=19, color='#111111'),
                   showgrid=True, gridcolor='#ececec', griddash='dash', gridwidth=1.5, zeroline=False),
        yaxis=right_axis([py(1160.7), py(40)], [1 + (819 - 1160.7) / 6325, 1 + (819 - 40) / 6325],
                         price_ticks, price_tick_labels),
        yaxis2=right_axis([py(1394), py(1160.7)], [-4.96, 113.2], stoch_ticks, stoch_tick_labels),
        yaxis3=right_axis([py(1508), py(1394)], [0, 259000], volume_ticks, volume_tick_labels),
        shapes=level_shapes() + chrome_shapes(),
        annotations=pattern_annotations() + text_annotations(),
    )
    fig.write_html("out.html", config=dict(displayModeBar=False),
                   post_script="document.body.style.margin='0';document.body.style.overflow='hidden';")


if __name__ == '__main__':
    main()
